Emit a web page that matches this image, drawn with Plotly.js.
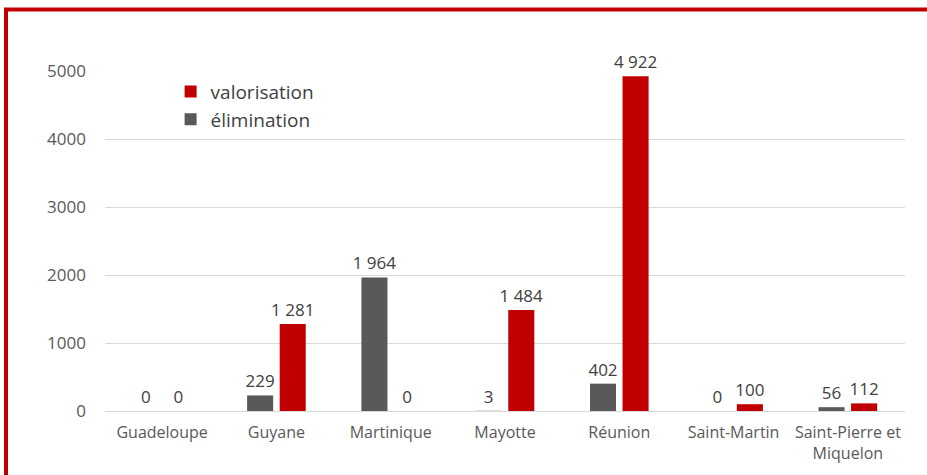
<!DOCTYPE html>
<html>
<head>
<meta charset="utf-8">
<script src="https://cdn.plot.ly/plotly-3.0.1.min.js"></script>
<style>html,body{margin:0;padding:0;background:#fff;}#chart{width:927px;height:475px;}</style>
</head>
<body>
<div id="chart"></div>
<script>
const categories = ["Guadeloupe", "Guyane", "Martinique", "Mayotte", "Réunion", "Saint-Martin", "Saint-Pierre et<br>Miquelon"];
const elimination = [0, 229, 1964, 3, 402, 0, 56];
const valorisation = [0, 1281, 0, 1484, 4922, 100, 112];
const yTicks = [0, 1000, 2000, 3000, 4000, 5000];

function fmt(v) { return String(v).replace(/\B(?=(\d{3})+(?!\d))/g, " "); }

const RED = "#C00000";
const GRAY = "#595959";
const FONT = "Open Sans, Liberation Sans, sans-serif";

const traces = [
  {
    type: "bar", name: "élimination", x: categories, y: elimination,
    marker: {color: GRAY},
    text: elimination.map(fmt), textposition: "outside", constraintext: "none",
    textfont: {color: "#404040", size: 17, family: FONT},
    cliponaxis: false, hoverinfo: "skip"
  },
  {
    type: "bar", name: "valorisation", x: categories, y: valorisation,
    marker: {color: RED},
    text: valorisation.map(fmt), textposition: "outside", constraintext: "none",
    textfont: {color: "#404040", size: 17, family: FONT},
    cliponaxis: false, hoverinfo: "skip"
  }
];

const layout = {
  width: 927, height: 475,
  margin: {l: 105, r: 22, t: 71, b: 64},
  paper_bgcolor: "#fff", plot_bgcolor: "#fff",
  font: {family: FONT, color: GRAY, size: 16},
  barmode: "group", bargap: 0.43, bargroupgap: 0.2,
  showlegend: true,
  legend: {
    x: 0.082, y: 0.995, xanchor: "left", yanchor: "top",
    traceorder: "reversed", font: {size: 19, color: "#404040", family: FONT},
    bgcolor: "rgba(0,0,0,0)", itemwidth: 30, tracegroupgap: 0
  },
  xaxis: {
    type: "category", showgrid: false, zeroline: false, showline: true,
    linecolor: "#d9d9d9", linewidth: 1, ticks: "", tickfont: {size: 16, color: GRAY},
    ticklabelstandoff: 7
  },
  yaxis: {
    range: [0, 5000], tickvals: yTicks, ticktext: yTicks.map(String),
    showgrid: true, gridcolor: "#d9d9d9", gridwidth: 1, zeroline: false,
    showline: false, ticks: "", tickfont: {size: 17, color: GRAY},
    ticklabelstandoff: 18
  },
  shapes: [{
    type: "rect", xref: "paper", yref: "paper",
    x0: (6 - 105) / 800, x1: (940 - 105) / 800,
    y0: (411 - 500) / 340, y1: (411 - 9.5) / 340,
    line: {color: RED, width: 4}, fillcolor: "rgba(0,0,0,0)", layer: "above"
  }]
};

Plotly.newPlot("chart", traces, layout, {displayModeBar: false, staticPlot: true});
</script>
</body>
</html>
